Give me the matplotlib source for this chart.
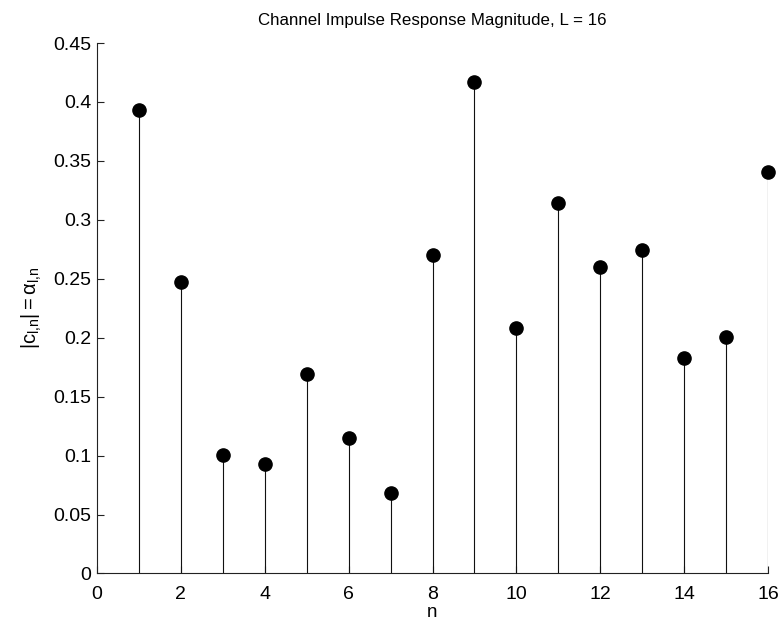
import matplotlib
matplotlib.use("Agg")
import matplotlib.pyplot as plt
import numpy as np

plt.rcParams["font.family"] = ["Liberation Sans", "DejaVu Sans"]
plt.rcParams["mathtext.fontset"] = "custom"
plt.rcParams["mathtext.rm"] = "Liberation Sans"
plt.rcParams["mathtext.it"] = "Liberation Sans"
plt.rcParams["mathtext.bf"] = "Liberation Sans:bold"

# Tap indices and channel magnitudes
n = np.arange(1, 17)
alpha = [0.3935, 0.247, 0.1003, 0.093, 0.1688, 0.115, 0.068, 0.2698,
         0.4167, 0.2084, 0.314, 0.2596, 0.2746, 0.1824, 0.2002, 0.3402]
xticks = [0, 2, 4, 6, 8, 10, 12, 14, 16]
yticks = [0, 0.05, 0.1, 0.15, 0.2, 0.25, 0.3, 0.35, 0.4, 0.45]
ytick_labels = ["0", "0.05", "0.1", "0.15", "0.2", "0.25", "0.3", "0.35", "0.4", "0.45"]

fig = plt.figure(figsize=(7.8, 6.26), dpi=100)
ax = fig.add_axes([0.1244, 0.0839, 0.8602, 0.8474])

markerline, stemlines, baseline = ax.stem(n, alpha, basefmt=" ")
plt.setp(stemlines, color="#111111", linewidth=0.8)
plt.setp(markerline, marker="o", markersize=9.5, markerfacecolor="black",
         markeredgecolor="black", clip_on=False)

ax.set_xlim(0, 16)
ax.set_ylim(0, 0.45)
ax.set_xticks(xticks)
ax.set_yticks(yticks)
ax.set_yticklabels(ytick_labels)

for side in ("top", "right"):
    ax.spines[side].set_visible(False)
for side in ("left", "bottom"):
    ax.spines[side].set_linewidth(0.8)
    ax.spines[side].set_color("#222222")

ax.tick_params(direction="in", length=5, width=0.8, labelsize=14,
               colors="#222222", labelcolor="black", pad=4)
ax.tick_params(axis="x", pad=9)

ax.set_title("Channel Impulse Response Magnitude, L = 16", fontsize=12.2, pad=13)
ax.set_xlabel("n", fontsize=13.5, labelpad=1)
ax.set_ylabel(r"$|c_{l{,}n}| = \alpha_{l{,}n}$", fontsize=14.5, labelpad=7)

fig.savefig("out.png", dpi=100)
